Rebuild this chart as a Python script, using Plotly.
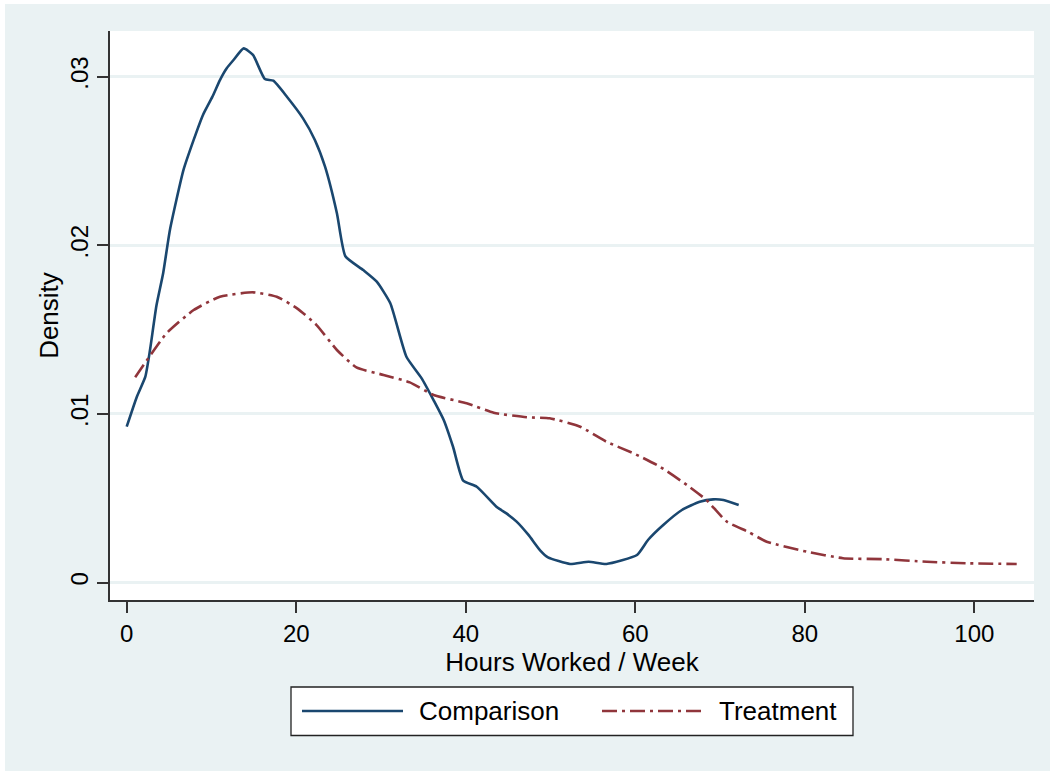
import plotly.graph_objects as go

# Comparison group density
comp_x = [0, 1.2, 2.2, 2.75, 3.5, 4.3, 5.1, 6.7, 7.9, 9.0, 10.1, 11.0, 11.8, 12.6, 13.8, 14.9,
          16.3, 17.3, 18.9, 20.8, 22.2, 23.4, 24.8, 25.8, 27.9, 29.5, 31.1, 33.0, 34.8, 36.2,
          37.4, 38.5, 39.7, 41.3, 43.7, 44.8, 46.0, 47.4, 48.8, 49.7, 52.3, 54.5, 56.6, 60.2,
          61.5, 63.3, 65.5, 67.6, 69.2, 70.4, 72.2]
comp_y = [0.00924, 0.01102, 0.01221, 0.01379, 0.01640, 0.01834, 0.02091, 0.02447, 0.02625,
          0.02773, 0.02880, 0.0298, 0.03050, 0.03099, 0.03168, 0.03129, 0.02986, 0.02976,
          0.02881, 0.02753, 0.02625, 0.02466, 0.0219, 0.01935, 0.01853, 0.01784, 0.01656,
          0.01339, 0.01211, 0.01082, 0.00964, 0.00805, 0.00604, 0.00568, 0.00446, 0.0041,
          0.00361, 0.00282, 0.00189, 0.00149, 0.0011, 0.00123, 0.0011, 0.00163, 0.00252,
          0.00341, 0.0043, 0.00479, 0.00493, 0.00489, 0.0046]

# Treatment group density
treat_x = [1.0, 2.55, 4.7, 7.9, 11.0, 14.9, 17.7, 20.1, 22.4, 24.8, 27.1, 30.3, 33.4, 36.2,
           40.1, 43.3, 47.2, 49.9, 53.5, 56.6, 59.8, 62.9, 66.1, 68.4, 70.8, 73.3, 75.5, 80.2,
           84.5, 89.3, 94.4, 99.1, 105.0]
treat_y = [0.01218, 0.0133, 0.01478, 0.01616, 0.01695, 0.01721, 0.01695, 0.01626, 0.01527,
           0.01379, 0.01276, 0.01231, 0.01187, 0.01112, 0.01063, 0.01007, 0.0098, 0.00974,
           0.00924, 0.00835, 0.00766, 0.00687, 0.00578, 0.00489, 0.00361, 0.00301, 0.00242,
           0.00183, 0.00144, 0.00138, 0.00123, 0.00114, 0.0011]

x_ticks = [0, 20, 40, 60, 80, 100]
y_ticks = [0, 0.01, 0.02, 0.03]
y_tick_text = ["0", ".01", ".02", ".03"]

series_names = ["Comparison", "Treatment"]
COMP_COLOR = "#1A476F"
TREAT_COLOR = "#90353B"
DASH = "15px,5px,3px,5px"
FONT = "Liberation Sans, Arial, sans-serif"

W, H = 1050, 771
ML, MR, MT, MB = 110, 16, 31, 171
PW, PH = W - ML - MR, H - MT - MB


def px_x(p):
    return (p - ML) / PW


def px_y(p):
    return (H - MB - p) / PH


fig = go.Figure()
fig.add_trace(go.Scatter(x=comp_x, y=comp_y, mode="lines", name=series_names[0],
                         line=dict(color=COMP_COLOR, width=2.6, shape="spline", smoothing=0.5),
                         showlegend=False))
fig.add_trace(go.Scatter(x=treat_x, y=treat_y, mode="lines", name=series_names[1],
                         line=dict(color=TREAT_COLOR, width=2.6, dash=DASH, shape="spline",
                                   smoothing=0.5),
                         showlegend=False))

shapes = [
    # outer light background
    dict(type="rect", xref="paper", yref="paper", x0=px_x(5), x1=px_x(1052),
         y0=px_y(773), y1=px_y(4), fillcolor="#EAF2F3", line=dict(width=0), layer="below"),
    # white plot region
    dict(type="rect", xref="paper", yref="paper", x0=0, x1=1, y0=0, y1=1,
         fillcolor="white", line=dict(width=0), layer="below"),
    # legend box
    dict(type="rect", xref="paper", yref="paper", x0=px_x(291), x1=px_x(853),
         y0=px_y(735.5), y1=px_y(687), fillcolor="white",
         line=dict(color="#222222", width=1.3)),
    # legend samples
    dict(type="line", xref="paper", yref="paper", x0=px_x(302), x1=px_x(403),
         y0=px_y(711), y1=px_y(711), line=dict(color=COMP_COLOR, width=2.6)),
    dict(type="line", xref="paper", yref="paper", x0=px_x(602), x1=px_x(703),
         y0=px_y(711), y1=px_y(711), line=dict(color=TREAT_COLOR, width=2.6, dash=DASH)),
]

annotations = [
    dict(text=series_names[0], xref="paper", yref="paper", x=px_x(417), y=px_y(711),
         xanchor="left", yanchor="middle", showarrow=False,
         font=dict(family=FONT, size=26, color="black")),
    dict(text=series_names[1], xref="paper", yref="paper", x=px_x(717), y=px_y(711),
         xanchor="left", yanchor="middle", showarrow=False,
         font=dict(family=FONT, size=26, color="black")),
]

fig.update_layout(
    width=W, height=H,
    margin=dict(l=ML, r=MR, t=MT, b=MB, autoexpand=False),
    paper_bgcolor="white", plot_bgcolor="rgba(0,0,0,0)",
    font=dict(family=FONT, color="black"),
    shapes=shapes, annotations=annotations, showlegend=False,
    xaxis=dict(
        range=[-1.97, 107.04], tickvals=x_ticks, ticks="outside", ticklen=11,
        tickwidth=1.5, tickcolor="#333333", showline=True, linecolor="#333333",
        linewidth=1.5, showgrid=False, zeroline=False,
        tickfont=dict(family=FONT, size=24, color="black"),
        title=dict(text="Hours Worked / Week", font=dict(family=FONT, size=26, color="black"),
                   standoff=0),
        automargin=False,
    ),
    yaxis=dict(
        range=[-0.001038, 0.03271], tickvals=y_ticks, ticktext=y_tick_text,
        tickangle=-90, ticks="outside", ticklen=11, tickwidth=1.5, tickcolor="#333333",
        showline=True, linecolor="#333333", linewidth=1.5,
        showgrid=True, gridcolor="#EAF2F3", gridwidth=2.5, zeroline=False,
        tickfont=dict(family=FONT, size=24, color="black"),
        title=dict(text="Density", font=dict(family=FONT, size=26, color="black"),
                   standoff=0),
        automargin=False,
    ),
)

fig.write_html("out.html")
